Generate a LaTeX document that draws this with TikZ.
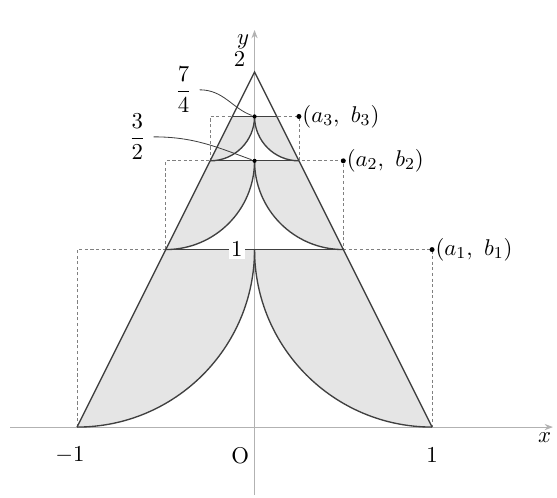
\documentclass[11pt,tikz,border=0pt]{standalone}
\usepackage{amsmath}
\usetikzlibrary{arrows.meta}
\definecolor{lightfill}{gray}{0.9}
\definecolor{inkline}{gray}{0.25}
\begin{document}
\begin{tikzpicture}[x=3cm,y=3cm,>=Stealth,
  curve/.style={inkline,line width=0.65pt},
  guide/.style={gray,line width=0.4pt,dash pattern=on 1.5pt off 1.2pt},
  axis/.style={gray!60,line width=0.5pt,-{Stealth[length=4pt,width=3pt]}}]
\useasboundingbox (-1.434,-0.394) rectangle (1.704,2.406);
% shaded pieces, one level per step
\foreach \r/\b in {1/0,0.5/1,0.25/1.5}{
\fill[lightfill](-\r,\b)--(-\r/2,\b+\r)--(0,\b+\r)arc[start angle=0,end angle=-90,radius=\r]--cycle;
\fill[lightfill](\r,\b)--(\r/2,\b+\r)--(0,\b+\r)arc[start angle=180,end angle=270,radius=\r]--cycle;
}
\draw[axis](-1.377,0)--(1.681,0);
\draw[axis](0,-0.383)--(0,2.237);
\node (xlab) at (1.634,-0.062){$x$};
\node (ylab) at (-0.065,2.169){$y$};
% dashed boxes and the points (a_n,b_n)
\foreach \r/\b/\n in {1/0/1,0.5/1/2,0.25/1.5/3}{
\draw[guide](-\r,\b)--(-\r,\b+\r)--(\r,\b+\r)--(\r,\b);
\fill(\r,\b+\r)circle(1.2pt);
\node[right,inner sep=1.5pt] (pt\n) at (\r,\b+\r){$(a_{\n},\ b_{\n})$};
}
% arcs and top lines
\foreach \r/\b in {1/0,0.5/1,0.25/1.5}{
\draw[curve](-\r,\b)arc[start angle=-90,end angle=0,radius=\r];
\draw[curve](\r,\b)arc[start angle=270,end angle=180,radius=\r];
\draw[curve](-\r/2,\b+\r)--(\r/2,\b+\r);
}
\draw[curve](-1,0)--(0,2)--(1,0);
% labels
\node[fill=white,inner sep=1pt] (one) at (-0.1,1){$1$};
\node (two) at (-0.085,2.07){$2$};
\node (mone) at (-1.04,-0.16){$-1$};
\node (pone) at (1,-0.16){$1$};
\node (orig) at (-0.08,-0.16){O};
\node (f74) at (-0.40,1.90){$\dfrac{7}{4}$};
\node (f32) at (-0.66,1.635){$\dfrac{3}{2}$};
\coordinate (p74) at (0,1.75);
\coordinate (p32) at (0,1.5);
\fill(p74)circle(1pt) (p32)circle(1pt);
\draw[inkline,line width=0.4pt,shorten >=1.5pt](f74.east)to[out=0,in=160](p74);
\draw[inkline,line width=0.4pt,shorten >=1.5pt](f32.east)to[out=0,in=160](p32);
\end{tikzpicture}
\end{document}
